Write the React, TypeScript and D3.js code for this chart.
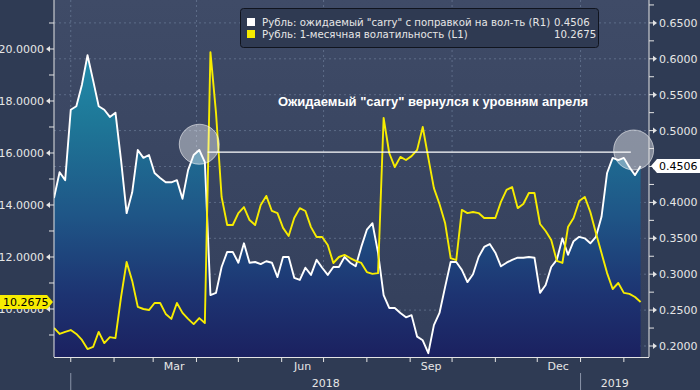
import * as d3 from 'd3';

// sampled every 4 calendar days starting from startDate
const startDate = '2017-12-20';
const stepDays = 4;

// Рубль: ожидаемый "carry" с поправкой на вол-ть (R1)
const carryR1 = [
  0.406, 0.442, 0.431, 0.529, 0.534, 0.564, 0.605, 0.57, 0.534, 0.529,
  0.519, 0.525, 0.459, 0.385, 0.414, 0.473, 0.462, 0.466, 0.441, 0.434,
  0.428, 0.428, 0.431, 0.405, 0.445, 0.466, 0.473, 0.456, 0.271, 0.274,
  0.31, 0.331, 0.331, 0.316, 0.343, 0.316, 0.317, 0.314, 0.318, 0.316,
  0.296, 0.324, 0.324, 0.295, 0.292, 0.309, 0.299, 0.32, 0.309, 0.299,
  0.31, 0.31, 0.324, 0.316, 0.311, 0.338, 0.362, 0.371, 0.33, 0.271,
  0.253, 0.253, 0.246, 0.24, 0.243, 0.213, 0.208, 0.19, 0.229, 0.246,
  0.282, 0.317, 0.317, 0.306, 0.289, 0.3, 0.324, 0.338, 0.342, 0.33,
  0.311, 0.316, 0.32, 0.323, 0.323, 0.324, 0.323, 0.274, 0.285, 0.31,
  0.32, 0.35, 0.327, 0.346, 0.352, 0.35, 0.343, 0.352, 0.38, 0.441,
  0.462, 0.459, 0.462, 0.449, 0.438, 0.4506,
];

// Рубль: 1-месячная волатильность (L1)
const vol1mL1 = [
  9.27, 9.04, 9.12, 9.19, 9.04, 8.81, 8.46, 8.54, 9.12, 8.69,
  8.92, 8.88, 10.46, 11.81, 11.08, 10.08, 10.0, 9.96, 10.23, 10.23,
  9.81, 9.62, 10.23, 9.85, 9.62, 9.42, 9.65, 9.46, 19.88, 17.54,
  14.31, 13.23, 13.23, 13.69, 13.92, 13.42, 13.23, 14.0, 14.35, 13.77,
  13.69, 13.12, 12.81, 13.5, 13.88, 13.77, 13.15, 12.77, 12.77, 12.46,
  11.77, 12.0, 12.08, 11.96, 11.85, 11.77, 11.42, 11.35, 11.38, 17.35,
  16.0, 15.46, 15.85, 15.73, 15.88, 16.12, 17.0, 15.81, 14.65, 14.04,
  13.31, 11.96, 11.88, 13.81, 13.69, 13.73, 13.69, 13.5, 13.5, 13.5,
  14.12, 14.58, 14.69, 13.88, 14.04, 14.46, 14.46, 13.27, 13.0, 12.65,
  11.85, 11.77, 13.15, 13.5, 14.15, 14.31, 13.73, 12.92, 12.15, 11.38,
  10.77, 11.0, 10.62, 10.58, 10.46, 10.2675,
];

const leftTicks = [10, 12, 14, 16, 18, 20];
const leftMinor = [9, 11, 13, 15, 17, 19, 21];
const rightTicks = [0.2, 0.25, 0.3, 0.35, 0.4, 0.45, 0.5, 0.55, 0.6, 0.65];
const rightMinor = [0.225, 0.275, 0.325, 0.375, 0.425, 0.475, 0.525, 0.575, 0.625, 0.675];
const labeledMonths = ['Mar', 'Jun', 'Sep', 'Dec'];
const years = ['2018', '2019'];

const legendCarry = 'Рубль: ожидаемый "carry" с поправкой на вол-ть (R1)';
const legendVol = 'Рубль: 1-месячная волатильность (L1)';
const annotationText = 'Ожидаемый "carry" вернулся к уровням апреля';
const aprilLevel = 0.47;
const aprilLine = ['2018-04-09', '2019-02-06'];
const circleMarks: [string, number][] = [
  ['2018-04-03', 0.481],
  ['2019-02-08', 0.473],
];

const W = 700;
const H = 390;
const m = { left: 54, right: 649, top: 0, bottom: 357 };
const font = '"DejaVu Sans", Verdana, sans-serif';

const parse = d3.utcParse('%Y-%m-%d');
const t0 = parse(startDate)!;
const dates = carryR1.map((_, i) => d3.utcDay.offset(t0, i * stepDays));

const x = d3
  .scaleUtc()
  .domain([parse('2017-12-20')!, parse('2019-02-19')!])
  .range([m.left, m.right]);
const yL = d3.scaleLinear().domain([8.1538, 21.8846]).range([m.bottom, m.top]);
const yR = d3.scaleLinear().domain([0.18468, 0.68189]).range([m.bottom, m.top]);

const fmt = d3.format('.4f');

export default function App() {
  const area = d3
    .area<number>()
    .x((_, i) => x(dates[i]))
    .y0(m.bottom)
    .y1((d) => yR(d));
  const carryLine = d3
    .line<number>()
    .x((_, i) => x(dates[i]))
    .y((d) => yR(d));
  const volLine = d3
    .line<number>()
    .x((_, i) => x(dates[i]))
    .y((d) => yL(d));

  const months = d3.utcMonth.range(d3.utcMonth.ceil(x.domain()[0]), x.domain()[1]);
  const quarters = months.filter((d) => d.getUTCMonth() % 3 === 0);
  const yearStarts = months.filter((d) => d.getUTCMonth() === 0);
  const monthFmt = d3.utcFormat('%b');

  const lastCarry = carryR1[carryR1.length - 1];
  const lastVol = vol1mL1[vol1mL1.length - 1];
  const yc = yR(lastCarry);
  const yv = yL(lastVol);

  return (
    <svg
      width={W}
      height={H}
      style={{ position: 'absolute', left: 0, top: 0, fontFamily: font }}
    >
      <defs>
        <linearGradient id="bg" x1="0" y1="0" x2="0" y2="1">
          <stop offset="0" stopColor="#3f4b67" />
          <stop offset="1" stopColor="#333f5b" />
        </linearGradient>
        <linearGradient id="fill" gradientUnits="userSpaceOnUse" x1="0" y1="40" x2="0" y2={m.bottom}>
          <stop offset="0" stopColor="#2390b0" />
          <stop offset="0.25" stopColor="#1e7898" />
          <stop offset="0.55" stopColor="#1f5687" />
          <stop offset="0.8" stopColor="#1d3472" />
          <stop offset="1" stopColor="#1b2160" />
        </linearGradient>
        <clipPath id="plotClip">
          <rect x={m.left} y={m.top} width={m.right - m.left} height={m.bottom - m.top} />
        </clipPath>
      </defs>

      <rect width={W} height={H} fill="#2f3b54" />
      <rect x={m.left} y={m.top} width={m.right - m.left} height={m.bottom - m.top} fill="url(#bg)" />

      {/* grid */}
      <g stroke="#6c7c98" strokeDasharray="2,3" strokeWidth={1} opacity={0.7}>
        {rightTicks.map((v) => (
          <line key={v} x1={m.left} x2={m.right} y1={yR(v)} y2={yR(v)} />
        ))}
        {quarters.map((d) => (
          <line key={+d} x1={x(d)} x2={x(d)} y1={m.top} y2={m.bottom} />
        ))}
      </g>

      <g clipPath="url(#plotClip)">
        <path d={area(carryR1) ?? ''} fill="url(#fill)" />
        <path d={carryLine(carryR1) ?? ''} fill="none" stroke="#ffffff" strokeWidth={1.9} strokeLinejoin="round" />
        <path d={volLine(vol1mL1) ?? ''} fill="none" stroke="#f7ec00" strokeWidth={1.9} strokeLinejoin="round" />
      </g>

      {/* annotation */}
      <line
        x1={x(parse(aprilLine[0])!)}
        x2={x(parse(aprilLine[1])!)}
        y1={yR(aprilLevel)}
        y2={yR(aprilLevel)}
        stroke="#ffffff"
        strokeWidth={1.2}
      />
      {circleMarks.map(([d, v]) => (
        <circle
          key={d}
          cx={x(parse(d)!)}
          cy={yR(v)}
          r={20}
          fill="#ffffff"
          fillOpacity={0.4}
          stroke="#ffffff"
          strokeOpacity={0.55}
          strokeWidth={1}
        />
      ))}
      <text x={278} y={106} fill="#ffffff" fontSize={13} fontWeight="bold" fontFamily='"Liberation Sans", Arial, sans-serif'>
        {annotationText}
      </text>

      {/* legend */}
      <rect x={240.5} y={8.5} width={358} height={39} rx={3} fill="#2f3a52" stroke="#10141e" />
      <rect x={247} y={18} width={8} height={8} fill="#ffffff" />
      <rect x={247} y={30} width={8} height={8} fill="#f7ec00" />
      <g fill="#e6e6e6" fontSize={10.2}>
        <text x={262} y={26}>{legendCarry}</text>
        <text x={262} y={38}>{legendVol}</text>
        <text x={554} y={26}>{fmt(lastCarry)}</text>
        <text x={554} y={38}>{fmt(lastVol)}</text>
      </g>

      {/* axes */}
      <g stroke="#e4e4e4" strokeWidth={1}>
        <line x1={m.left} x2={m.left} y1={m.top} y2={m.bottom} />
        <line x1={m.right} x2={m.right} y1={m.top} y2={m.bottom} />
        <line x1={m.left} x2={m.right} y1={m.bottom + 0.5} y2={m.bottom + 0.5} />
        {leftMinor.map((v) => (
          <line key={v} x1={m.left - 5} x2={m.left} y1={yL(v)} y2={yL(v)} />
        ))}
        {leftTicks.map((v) => (
          <line key={v} x1={m.left - 6} x2={m.left} y1={yL(v)} y2={yL(v)} />
        ))}
        {rightMinor.map((v) => (
          <line key={v} x1={m.right} x2={m.right + 5} y1={yR(v)} y2={yR(v)} />
        ))}
        {rightTicks.map((v) => (
          <line key={v} x1={m.right} x2={m.right + 6} y1={yR(v)} y2={yR(v)} />
        ))}
        {months.map((d) => (
          <line key={+d} x1={x(d)} x2={x(d)} y1={m.bottom} y2={m.bottom + 5} />
        ))}
        {yearStarts.map((d) => (
          <line key={+d} x1={x(d)} x2={x(d)} y1={373} y2={H} stroke="#8a94a8" />
        ))}
      </g>
      <g fill="#e4e4e4">
        {leftTicks.map((v) => (
          <path key={v} d={`M${m.left - 8},${yL(v)}l4,-3v6z`} />
        ))}
        {rightTicks.map((v) => (
          <path key={v} d={`M${m.right + 8},${yR(v)}l-4,-3v6z`} />
        ))}
      </g>
      <g fill="#e6e6e6" fontSize={11}>
        {leftTicks.map((v) => (
          <text key={v} x={44} y={yL(v)} dy="0.36em" textAnchor="end">
            {fmt(v)}
          </text>
        ))}
        {rightTicks.map((v) => (
          <text key={v} x={659} y={yR(v)} dy="0.36em">
            {fmt(v)}
          </text>
        ))}
        {months
          .filter((d) => labeledMonths.includes(monthFmt(d)))
          .map((d) => (
            <text key={+d} x={x(d3.utcDay.offset(d, 15))} y={370} textAnchor="middle">
              {monthFmt(d)}
            </text>
          ))}
        <text x={(x(yearStarts[0]) + x(yearStarts[1])) / 2} y={387} textAnchor="middle">
          {years[0]}
        </text>
        <text x={(x(yearStarts[1]) + m.right) / 2} y={387} textAnchor="middle">
          {years[1]}
        </text>
      </g>

      {/* last value flags */}
      <path d={`M0,${yv - 7}H47L53,${yv}L47,${yv + 7}H0Z`} fill="#f7ec00" />
      <text x={3} y={yv} dy="0.36em" fontSize={11} fill="#000">
        {fmt(lastVol)}
      </text>
      <path d={`M651,${yc}L657,${yc - 7}H700V${yc + 7}H657Z`} fill="#ffffff" />
      <text x={659} y={yc} dy="0.36em" fontSize={11} fill="#000">
        {fmt(lastCarry)}
      </text>
    </svg>
  );
}
